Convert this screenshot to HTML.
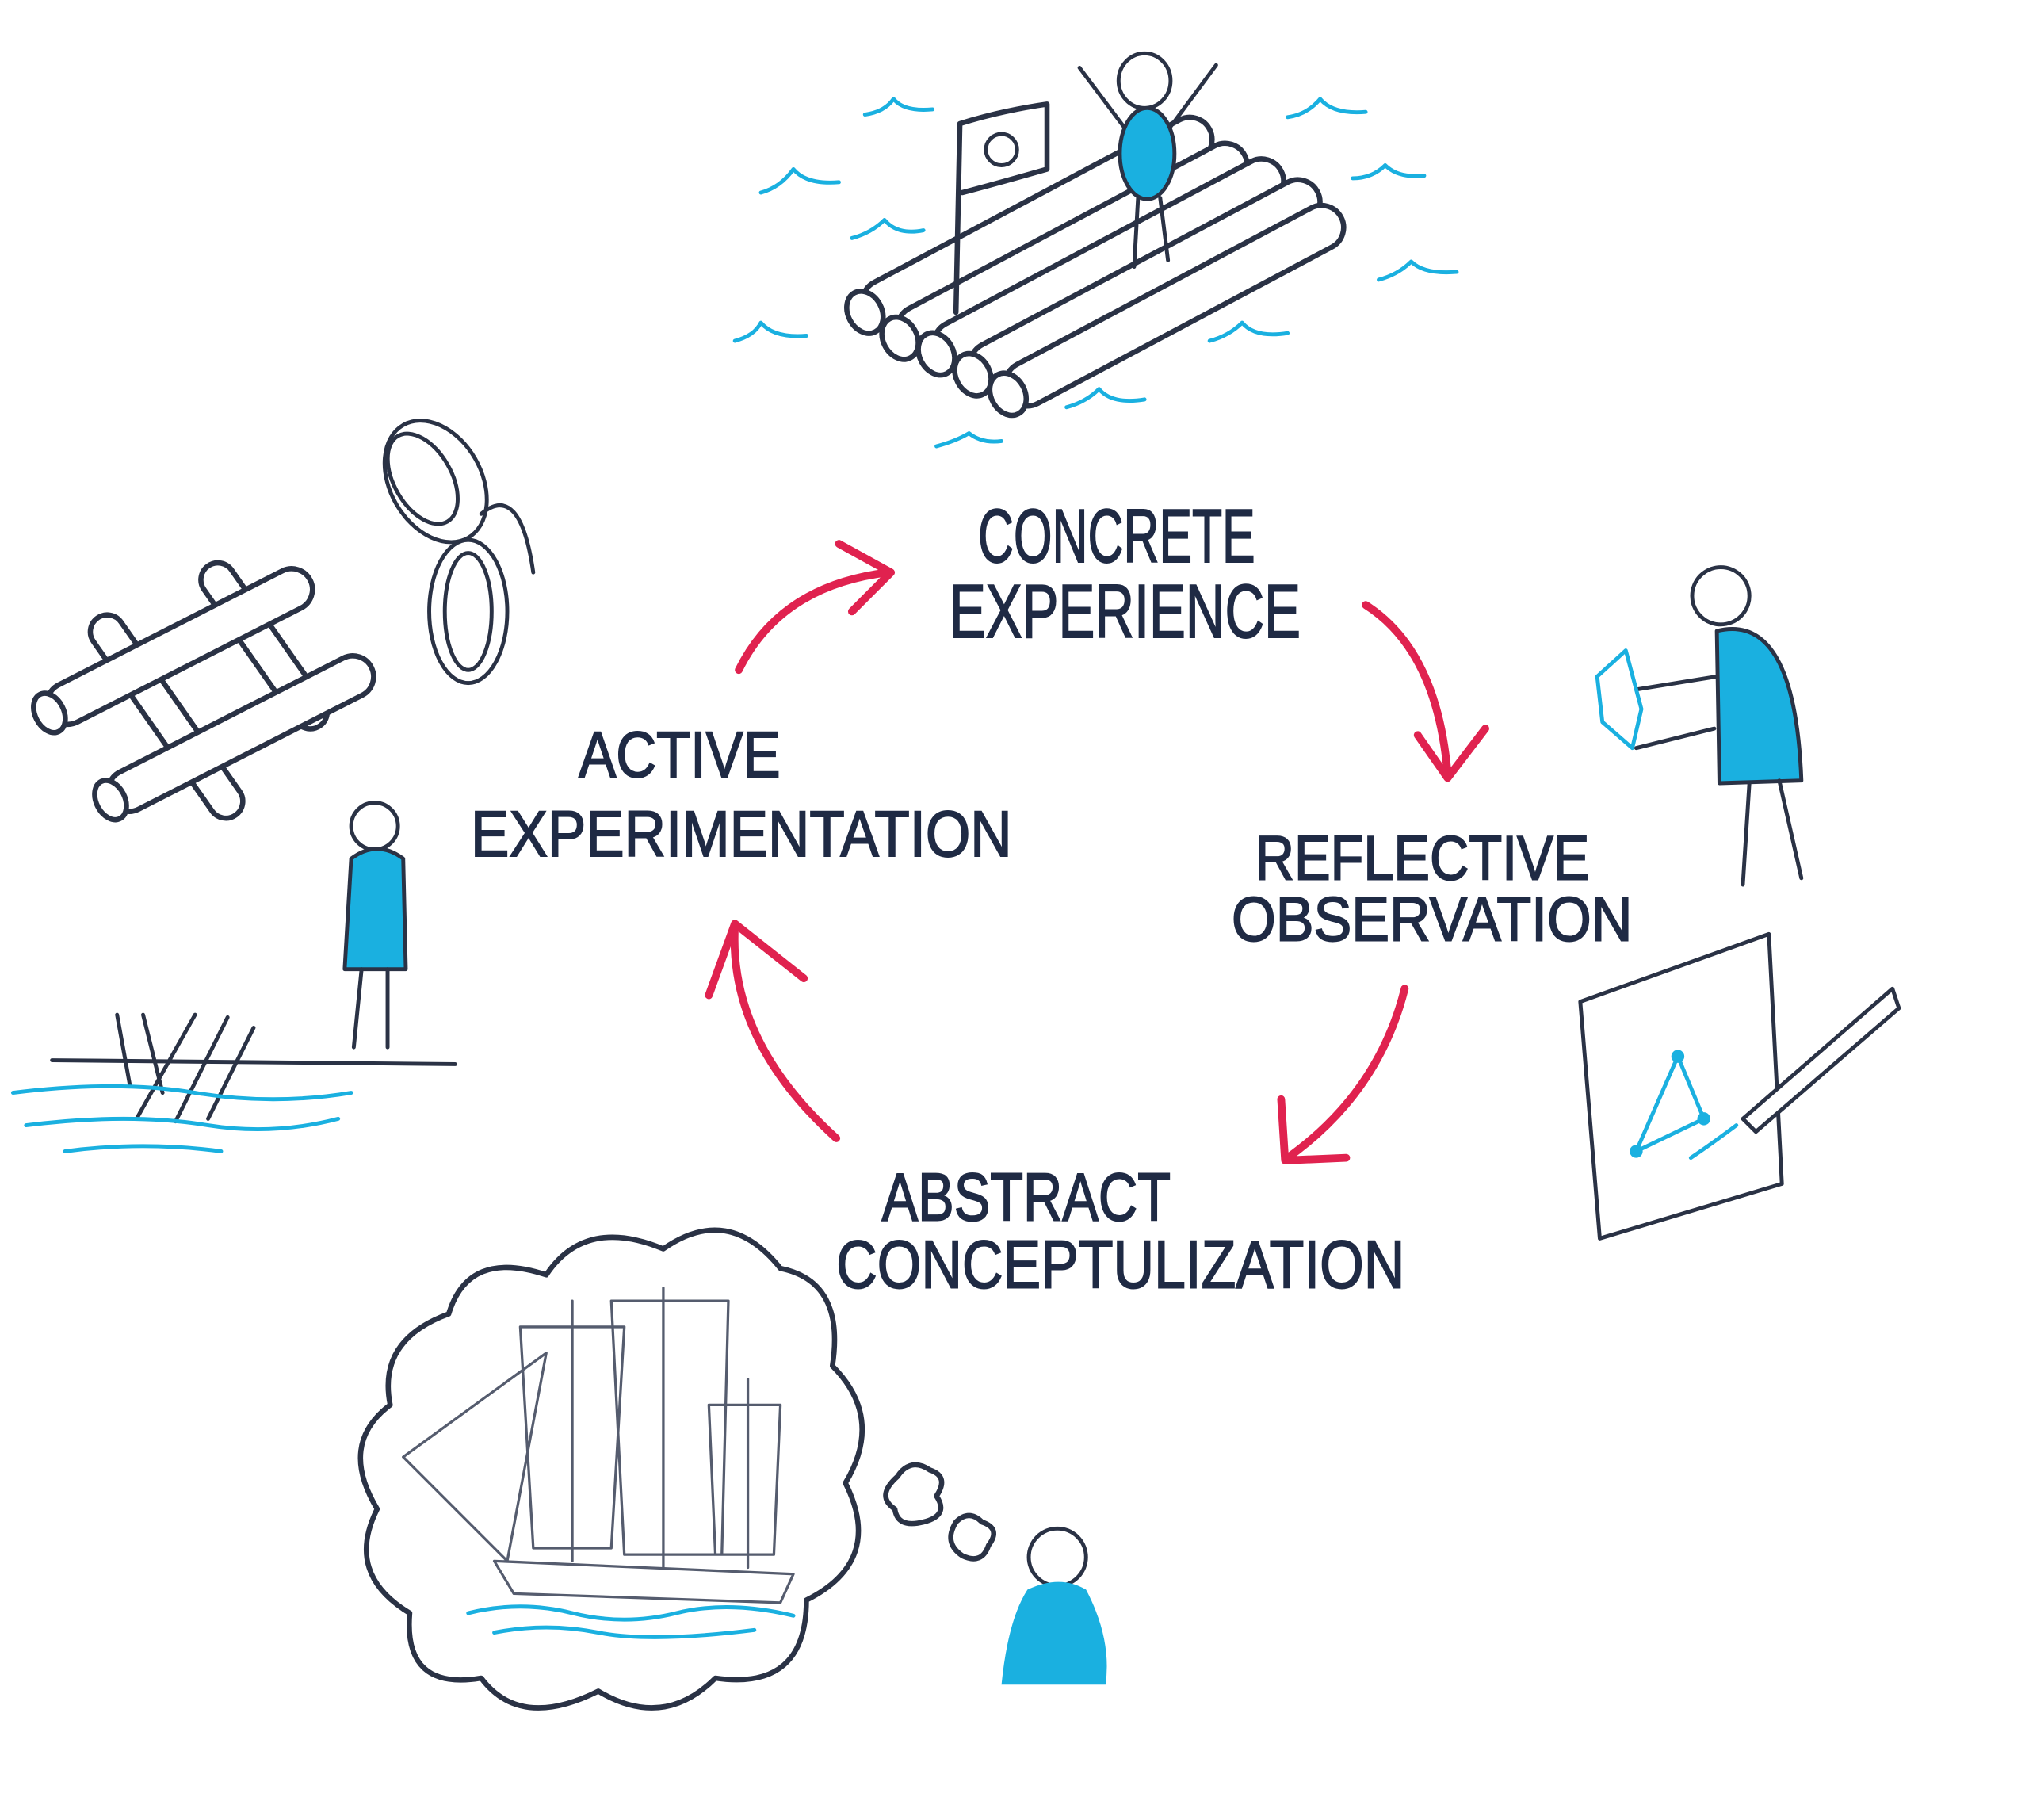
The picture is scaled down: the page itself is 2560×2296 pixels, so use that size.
<!DOCTYPE html>
<html><head><meta charset="utf-8"><style>
html,body{margin:0;padding:0;background:#fff;}
svg{display:block;}
text{font-family:"Liberation Sans",sans-serif;fill:#1f2a44;stroke:#1f2a44;stroke-width:1.2;font-weight:normal;}
</style></head><body>
<svg width="2560" height="2296" viewBox="0 0 1560 1399" xmlns="http://www.w3.org/2000/svg">
<g fill="none" stroke-linecap="round" stroke-linejoin="round">
<!-- waves top -->
<g stroke="#1ab0e0" stroke-width="3">
<path d="M585 148 q15 -4 25 -18 q10 12 35 10"/>
<path d="M665 88 q15 -2 22 -12 q8 10 30 8"/>
<path d="M655 183 q15 -4 25 -14 q10 12 30 8"/>
<path d="M565 262 q15 -4 20 -14 q10 12 35 10"/>
<path d="M990 90 q15 -2 25 -14 q10 12 35 10"/>
<path d="M1040 137 q15 0 25 -10 q10 10 30 8"/>
<path d="M1060 215 q15 -4 25 -14 q10 10 35 8"/>
<path d="M930 262 q15 -4 25 -14 q10 12 35 8"/>
<path d="M820 313 q15 -4 25 -14 q10 12 35 8"/>
<path d="M720 343 q15 -4 25 -10 q10 8 25 6"/>
</g>
<!-- raft -->
<g stroke="#2a3245" stroke-width="4">
<g transform="translate(665,240) rotate(-28)"><rect x="0" y="-17" width="300" height="34" rx="17" fill="#fff"/><ellipse cx="0" cy="0" rx="13" ry="17" fill="#fff"/></g>
<g transform="translate(692,260) rotate(-28)"><rect x="0" y="-17" width="300" height="34" rx="17" fill="#fff"/><ellipse cx="0" cy="0" rx="13" ry="17" fill="#fff"/></g>
<g transform="translate(720,272) rotate(-28)"><rect x="0" y="-17" width="300" height="34" rx="17" fill="#fff"/><ellipse cx="0" cy="0" rx="13" ry="17" fill="#fff"/></g>
<g transform="translate(748,288) rotate(-28)"><rect x="0" y="-17" width="300" height="34" rx="17" fill="#fff"/><ellipse cx="0" cy="0" rx="13" ry="17" fill="#fff"/></g>
<g transform="translate(775,303) rotate(-28)"><rect x="0" y="-17" width="290" height="34" rx="17" fill="#fff"/><ellipse cx="0" cy="0" rx="13" ry="17" fill="#fff"/></g>
<path d="M735 240 L738 95 Q770 85 805 80 L805 130 Q770 140 740 148"/>
<circle cx="770" cy="115" r="12" stroke-width="3"/>
</g>
<!-- raft person -->
<g stroke="#2a3245" stroke-width="3">
<ellipse cx="880" cy="62" rx="20" ry="21" fill="#fff"/>
<path d="M866 100 L830 52 M898 100 L935 50"/>
<ellipse cx="882" cy="118" rx="21" ry="35" fill="#1ab0e0"/>
<path d="M875 152 L872 205 M892 152 L898 200"/>
</g>
</g>
<text x="752" y="432" font-size="58" textLength="213" lengthAdjust="spacingAndGlyphs">CONCRETE</text>
<text x="730" y="490" font-size="58" textLength="270" lengthAdjust="spacingAndGlyphs">EXPERIENCE</text>
<text x="445" y="597" font-size="50" textLength="155" lengthAdjust="spacingAndGlyphs">ACTIVE</text>
<text x="362" y="658" font-size="50" textLength="416" lengthAdjust="spacingAndGlyphs">EXPERIMENTATION</text>
<text x="965" y="676" font-size="48" textLength="257" lengthAdjust="spacingAndGlyphs">REFLECTIVE</text>
<text x="947" y="723" font-size="48" textLength="308" lengthAdjust="spacingAndGlyphs">OBSERVATION</text>
<text x="678" y="938" font-size="52" textLength="222" lengthAdjust="spacingAndGlyphs">ABSTRACT</text>
<text x="643" y="990" font-size="52" textLength="437" lengthAdjust="spacingAndGlyphs">CONCEPTULIZATION</text>
<g fill="none" stroke-linecap="round" stroke-linejoin="round">
<!-- arrows -->
<g stroke="#e0224f" stroke-width="6">
<path d="M568 515 Q600 450 683 440"/><path d="M645 418 L685 440 L655 470"/>
<path d="M1050 465 Q1105 500 1113 595"/><path d="M1090 565 L1113 598 L1142 560"/>
<path d="M1080 760 Q1060 840 990 890"/><path d="M985 845 L988 892 L1035 890"/>
<path d="M643 875 Q560 800 565 712"/><path d="M545 765 L565 710 L618 752"/>
</g>
<!-- right person -->
<g stroke="#2a3245" stroke-width="3">
<circle cx="1323" cy="458" r="22" fill="#fff"/>
<path d="M1320 485 Q1380 470 1385 600 L1322 602 Z" fill="#1ab0e0"/>
<path d="M1345 602 L1340 680 M1368 600 L1385 675 M1320 520 L1258 530 M1318 560 L1258 575"/>
<path d="M1228 520 L1250 500 L1262 545 L1255 575 L1232 555 Z" stroke="#1ab0e0"/>
</g>
<!-- paper -->
<g stroke="#2a3245" stroke-width="3">
<path d="M1215 770 L1360 718 L1370 910 L1230 952 Z" fill="#fff"/>
<path d="M1340 860 L1455 760 L1460 775 L1350 870 Z" fill="#fff"/>
</g>
<g stroke="#1ab0e0" stroke-width="3"><path d="M1290 812 L1258 885 L1310 860 Z"/><path d="M1300 890 q15 -10 35 -25"/></g>
<g fill="#1ab0e0"><circle cx="1290" cy="812" r="5"/><circle cx="1258" cy="885" r="5"/><circle cx="1310" cy="860" r="5"/></g>
<!-- top-left logs -->
<g stroke="#2a3245" stroke-width="4" fill="#fff">
<g transform="translate(75,475) rotate(55)"><rect x="0" y="-13" width="185" height="26" rx="13"/></g>
<g transform="translate(160,435) rotate(55)"><rect x="0" y="-13" width="150" height="26" rx="13"/></g>
<g transform="translate(38,548) rotate(-27)"><rect x="0" y="-16" width="225" height="32" rx="16"/><ellipse cx="0" cy="0" rx="11" ry="16"/></g>
<g transform="translate(85,615) rotate(-27)"><rect x="0" y="-16" width="225" height="32" rx="16"/><ellipse cx="0" cy="0" rx="11" ry="16"/></g>
</g>
<!-- rope -->
<g stroke="#2a3245" stroke-width="3">
<ellipse cx="335" cy="370" rx="35" ry="50" transform="rotate(-30 335 370)"/>
<ellipse cx="325" cy="368" rx="22" ry="38" transform="rotate(-30 325 368)"/>
<ellipse cx="360" cy="470" rx="30" ry="55"/>
<ellipse cx="360" cy="470" rx="18" ry="45"/>
<path d="M370 395 Q400 370 410 440"/>
</g>
<!-- left person & wreck -->
<g stroke="#2a3245" stroke-width="3">
<circle cx="288" cy="635" r="18" fill="#fff"/>
<path d="M270 660 Q290 645 310 660 L312 745 L265 745 Z" fill="#1ab0e0"/>
<path d="M278 745 L272 805 M298 745 L298 805 M40 815 L350 818"/>
<path d="M90 780 L100 835 M110 780 L125 840 M150 780 L105 860 M175 782 L135 862 M195 790 L160 860"/>
</g>
<g stroke="#1ab0e0" stroke-width="3"><path d="M10 840 q80 -10 140 0 q60 10 120 0"/><path d="M20 865 q80 -10 140 0 q50 8 100 -5"/><path d="M50 885 q60 -8 120 0"/></g>
<!-- thought cloud -->
<g stroke="#2a3245" stroke-width="4">
<path d="M345 1010 Q360 960 420 980 Q450 935 510 960 Q560 925 600 975 Q650 985 640 1050 Q680 1090 650 1140 Q680 1200 620 1230 Q620 1300 550 1290 Q510 1330 460 1300 Q400 1330 370 1290 Q310 1300 315 1240 Q265 1210 290 1160 Q260 1110 300 1080 Q290 1030 345 1010 Z" fill="#fff"/>
<path d="M690 1135 q10 -15 25 -5 q15 5 5 20 q10 15 -10 20 q-20 5 -22 -10 q-15 -10 2 -25 Z"/>
<path d="M735 1170 q10 -10 20 0 q15 5 5 18 q-5 15 -20 8 q-15 -10 -5 -26 Z"/>
</g>
<!-- ship -->
<g stroke="#555c6e" stroke-width="2">
<path d="M380 1200 L610 1210 L600 1232 L395 1225 Z"/>
<path d="M440 1000 L440 1200 M510 990 L510 1205 M575 1060 L575 1205"/>
<path d="M400 1020 L480 1020 L470 1190 L410 1190 Z M470 1000 L560 1000 L555 1195 L480 1195 Z M545 1080 L600 1080 L595 1195 L550 1195 Z M310 1120 L420 1040 L390 1200 Z"/>
</g>
<g stroke="#1ab0e0" stroke-width="3"><path d="M360 1240 q40 -10 80 0 q40 10 80 0 q40 -10 90 2"/><path d="M380 1255 q40 -8 80 0 q40 8 120 -2"/></g>
<!-- bottom person -->
<g stroke="#2a3245" stroke-width="3">
<circle cx="813" cy="1197" r="22" fill="#fff"/>
<path d="M790 1222 Q815 1210 835 1222 Q855 1260 850 1295 L770 1295 Q775 1245 790 1222 Z" fill="#1ab0e0" stroke="none"/>
</g>
</g>
</svg>
</body></html>
